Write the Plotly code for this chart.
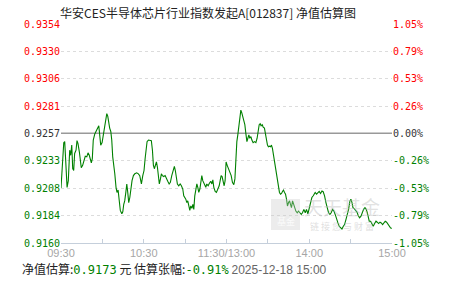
import plotly.graph_objects as go

# ---------------- data ----------------
title_text = "华安CES半导体芯片行业指数发起A[012837] 净值估算图"
base_nav = 0.92573  # previous NAV (0.00% line)

left_tick_labels = ["0.9160", "0.9184", "0.9208", "0.9233", "0.9257",
                    "0.9281", "0.9306", "0.9330", "0.9354"]
right_tick_labels = ["-1.05%", "-0.79%", "-0.53%", "-0.26%", "0.00%",
                     "0.26%", "0.53%", "0.79%", "1.05%"]
x_tick_minutes = [0, 30, 60, 90, 120, 150, 180, 210, 240]
x_tick_labels = ["09:30", "", "10:30", "", "11:30/13:00", "", "14:00", "", "15:00"]

# minutes of trading time since 09:30 (lunch break removed)
minutes = [
    0, 0.9, 2.0, 2.7, 3.4, 4.4, 5.3, 6.3, 7.0, 7.8,
    8.5, 9.2, 9.9, 10.9, 11.6, 12.3, 13.3, 14.0, 14.7, 15.7,
    16.7, 17.6, 18.7, 19.6, 20.5, 21.3, 22.0, 22.7, 23.4, 24.5,
    25.6, 26.6, 27.4, 28.1, 28.8, 29.8, 30.5, 31.4, 32.4, 33.2,
    33.9, 34.6, 35.3, 36.1, 36.8, 37.5, 38.2, 39.0, 39.9, 40.6,
    41.4, 42.1, 43.0, 44.1, 44.8, 45.5, 46.2, 47.0, 47.7, 48.4,
    49.1, 49.9, 50.6, 51.5, 52.5, 53.5, 54.9, 56.1, 57.1, 58.3,
    59.3, 60.2, 61.0, 61.7, 62.4, 63.4, 64.6, 65.5, 66.3, 67.0,
    67.7, 68.4, 69.2, 69.9, 70.6, 71.3, 72.1, 72.8, 73.5, 74.5,
    75.5, 76.4, 77.4, 78.4, 79.3, 80.3, 81.3, 82.2, 82.9, 83.7,
    84.4, 85.4, 86.4, 87.3, 88.3, 89.0, 89.8, 90.5, 91.2, 91.9,
    92.7, 93.4, 94.1, 94.9, 95.6, 96.3, 97.0, 97.8, 98.5, 99.2,
    99.9, 100.7, 101.4, 102.1, 102.8, 103.6, 104.3, 105.0, 105.7, 106.7,
    107.6, 108.6, 109.4, 110.1, 110.8, 111.8, 112.7, 113.7, 114.7, 115.4,
    116.1, 116.8, 117.6, 118.3, 119.0, 119.7, 120.5, 121.4, 122.4, 123.4,
    124.3, 125.3, 126.1, 126.8, 127.5, 128.2, 129.0, 129.7, 130.4, 131.1,
    131.9, 132.6, 133.3, 134.0, 134.8, 135.5, 136.2, 136.9, 137.7, 138.4,
    139.3, 140.3, 141.3, 142.2, 143.0, 143.7, 144.4, 145.1, 145.9, 146.6,
    147.5, 148.3, 149.0, 149.7, 150.4, 151.2, 151.9, 152.6, 153.3, 154.1,
    154.8, 155.5, 156.2, 157.0, 157.7, 158.4, 159.2, 159.9, 160.6, 161.3,
    162.1, 162.8, 163.5, 164.2, 165.0, 165.7, 166.4, 167.1, 167.9, 168.6,
    169.3, 170.3, 171.3, 172.2, 173.2, 174.2, 175.1, 176.1, 177.1, 178.0,
    179.0, 180.0, 180.9, 181.9, 182.9, 183.8, 184.3, 185.3, 186.3, 187.2,
    188.2, 189.2, 190.1, 191.1, 192.1, 193.0, 194.0, 195.0, 195.9, 196.9,
    197.9, 198.8, 199.8, 200.8, 201.7, 202.7, 203.7, 204.7, 205.6, 206.6,
    207.6, 208.5, 209.5, 210.2, 211.0, 211.7, 212.6, 213.6, 214.6, 215.5,
    216.5, 217.5, 218.4, 219.4, 220.4, 221.3, 222.1, 222.8, 223.5, 224.5,
    225.5, 226.4, 227.4, 228.4, 229.3, 230.3, 231.3, 232.2, 233.2, 234.2,
    235.1, 236.1, 237.1, 238.0, 239.0, 240,
]

nav = [
    0.92087, 0.92318, 0.92489, 0.92498, 0.92332, 0.92093, 0.92152, 0.92422, 0.92377, 0.92467,
    0.92258, 0.92242, 0.92393, 0.92422, 0.92507, 0.92483, 0.92408, 0.92348, 0.92267, 0.92288,
    0.92332, 0.92368, 0.92363, 0.92399, 0.92377, 0.92348, 0.92309, 0.92348, 0.92512, 0.92566,
    0.92588, 0.92618, 0.92638, 0.92573, 0.92467, 0.92489, 0.92543, 0.92618, 0.92708, 0.92746,
    0.92723, 0.92656, 0.92618, 0.92588, 0.92512, 0.92363, 0.92303, 0.92213, 0.92093, 0.92048,
    0.92069, 0.91973, 0.91889, 0.91859, 0.91877, 0.91943, 0.91973, 0.92048, 0.92123, 0.92048,
    0.91958, 0.92003, 0.92078, 0.92152, 0.92197, 0.92213, 0.92222, 0.92213, 0.92197, 0.92123,
    0.92197, 0.92242, 0.92348, 0.92453, 0.92498, 0.92512, 0.92512, 0.92507, 0.92422, 0.92288,
    0.92258, 0.92288, 0.92318, 0.92273, 0.92197, 0.92123, 0.92168, 0.92213, 0.92197, 0.92189,
    0.92197, 0.92168, 0.92147, 0.92123, 0.92138, 0.92197, 0.92248, 0.92278, 0.92242, 0.92152,
    0.92123, 0.92107, 0.92123, 0.92107, 0.92078, 0.92018, 0.92003, 0.91988, 0.91958, 0.91973,
    0.91928, 0.91889, 0.91928, 0.91907, 0.91943, 0.91898, 0.92018, 0.92078, 0.92123, 0.92093,
    0.92048, 0.92078, 0.92138, 0.92197, 0.92152, 0.92123, 0.92098, 0.92093, 0.92123, 0.92107,
    0.92129, 0.92147, 0.92123, 0.92159, 0.92093, 0.92057, 0.92048, 0.92078, 0.92107, 0.92152,
    0.92197, 0.92189, 0.92138, 0.92107, 0.92152, 0.92318, 0.92288, 0.92258, 0.92228, 0.92197,
    0.92138, 0.92116, 0.92168, 0.92408, 0.92498, 0.92558, 0.92663, 0.92753, 0.92777, 0.92753,
    0.92708, 0.92678, 0.92648, 0.92573, 0.92498, 0.92528, 0.92558, 0.92528, 0.92543, 0.92512,
    0.92489, 0.92498, 0.92489, 0.92528, 0.92603, 0.92648, 0.92656, 0.92638, 0.92648, 0.92627,
    0.92618, 0.92558, 0.92483, 0.92467, 0.92453, 0.92458, 0.92453, 0.92467, 0.92438, 0.92377,
    0.92318, 0.92258, 0.92197, 0.92123, 0.92078, 0.92048, 0.92033, 0.92039, 0.92057, 0.92069,
    0.92048, 0.92033, 0.91988, 0.91928, 0.91958, 0.91973, 0.91943, 0.91913, 0.91973, 0.91943,
    0.91913, 0.91883, 0.91868, 0.91883, 0.91868, 0.91853, 0.91868, 0.91898, 0.91868, 0.91898,
    0.91859, 0.91913, 0.91973, 0.92003, 0.92018, 0.92039, 0.92048, 0.92033, 0.92048, 0.92057,
    0.92039, 0.92060, 0.92054, 0.92018, 0.91958, 0.91898, 0.91868, 0.91853, 0.91868, 0.91898,
    0.91883, 0.91853, 0.91823, 0.91778, 0.91748, 0.91733, 0.91724, 0.91748, 0.91763, 0.91808,
    0.91853, 0.91898, 0.91973, 0.91988, 0.91958, 0.91913, 0.91904, 0.91892, 0.91874, 0.91844,
    0.91823, 0.91838, 0.91868, 0.91898, 0.91913, 0.91898, 0.91868, 0.91823, 0.91793, 0.91793,
    0.91763, 0.91748, 0.91772, 0.91793, 0.91784, 0.91772, 0.91784, 0.91778, 0.91763, 0.91778,
    0.91793, 0.91784, 0.91763, 0.91754, 0.91733, 0.91730,
]

est_nav_text = "0.9173"
est_chg_text = "-0.91%"
est_time_text = "2025-12-18 15:00"

# ---------------- layout constants ----------------
W, H = 451, 281
ML, MR, MT, MB = 61, 59, 24, 38
PW, PH = W - ML - MR, H - MT - MB

def px_x(px):
    return (px - ML) / PW

def px_y(py):
    return (H - MB - py) / PH

GREEN = "#008000"
RED = "#ff0000"
DARK = "#333333"
MONO = "DejaVu Sans Mono"
CJK = "Noto Sans CJK SC"

y_lo = float(left_tick_labels[0])
y_hi = float(left_tick_labels[-1])
n = len(left_tick_labels)
tickvals = [y_lo + i * (y_hi - y_lo) / (n - 1) for i in range(n)]
mid = n // 2

def colored(lbl, i):
    c = GREEN if i < mid else (DARK if i == mid else RED)
    return f'<span style="color:{c}">{lbl}</span>'

left_text = [colored(l, i) for i, l in enumerate(left_tick_labels)]
right_text = [colored(l, i) for i, l in enumerate(right_tick_labels)]

fig = go.Figure()
fig.add_trace(go.Scatter(x=minutes, y=nav, mode="lines",
                         line=dict(color=GREEN, width=1.1),
                         hoverinfo="skip", showlegend=False))
fig.add_trace(go.Scatter(x=minutes, y=nav, mode="lines", yaxis="y2",
                         line=dict(color="rgba(0,0,0,0)", width=0),
                         hoverinfo="skip", showlegend=False))

fig.add_shape(type="line", xref="x", yref="y", x0=0, x1=240,
              y0=base_nav, y1=base_nav,
              line=dict(color="#999999", width=1.5), layer="between")

fig.update_layout(
    width=W, height=H,
    margin=dict(l=ML, r=MR, t=MT, b=MB, pad=0),
    paper_bgcolor="white", plot_bgcolor="white",
    showlegend=False,
    xaxis=dict(range=[0, 240], tickmode="array", tickvals=x_tick_minutes,
               ticktext=x_tick_labels, showgrid=False, zeroline=False,
               showline=True, linecolor="#c5cfdb", linewidth=1,
               ticks="inside", ticklen=4, tickcolor="#c5cfdb", tickwidth=1,
               tickfont=dict(family="Liberation Sans", size=11, color="#a6a6a6"),
               fixedrange=True),
    yaxis=dict(range=[y_lo, y_hi], tickmode="array", tickvals=tickvals,
               ticktext=left_text, showgrid=True, gridcolor="#dcdcdc",
               griddash="dot", gridwidth=1, zeroline=False, showline=False,
               ticks="", tickfont=dict(family=MONO, size=10),
               fixedrange=True),
    yaxis2=dict(range=[y_lo, y_hi], overlaying="y", side="right",
                tickmode="array", tickvals=tickvals, ticktext=right_text,
                showgrid=False, zeroline=False, showline=False, ticks="",
                tickfont=dict(family=MONO, size=10), fixedrange=True),
)

# title
fig.add_annotation(text=title_text, xref="paper", yref="paper",
                   x=px_x(208), y=px_y(13), xanchor="center", yanchor="middle",
                   showarrow=False, font=dict(family=CJK, size=12, color="#222222"))

# watermark
fig.add_annotation(text="天天基金", xref="paper", yref="paper",
                   x=px_x(342), y=px_y(206), xanchor="center", yanchor="middle",
                   showarrow=False,
                   font=dict(family=CJK, size=19, color="rgba(190,190,190,0.45)"))
fig.add_annotation(text="链 接 您 与 财 富", xref="paper", yref="paper",
                   x=px_x(342), y=px_y(226), xanchor="center", yanchor="middle",
                   showarrow=False,
                   font=dict(family=CJK, size=9, color="rgba(190,190,190,0.5)"))
fig.add_shape(type="rect", xref="paper", yref="paper",
              x0=px_x(271), x1=px_x(300), y0=px_y(230), y1=px_y(199),
              fillcolor="rgba(200,200,200,0.35)", line=dict(width=0))
fig.add_annotation(text="基金", xref="paper", yref="paper",
                   x=px_x(285.5), y=px_y(221), xanchor="center", yanchor="middle",
                   showarrow=False,
                   font=dict(family=CJK, size=9, color="rgba(255,255,255,0.8)"))

# bottom info line
info = (f'净值估算:<span style="color:{GREEN};font-family:{MONO}">{est_nav_text}</span>'
        f' 元 估算张幅:<span style="color:{GREEN};font-family:{MONO}">{est_chg_text}</span>'
        f' <span style="color:#666666;font-family:Liberation Sans">{est_time_text}</span>')
fig.add_annotation(text=info, xref="paper", yref="paper",
                   x=px_x(20), y=px_y(268), xanchor="left", yanchor="middle",
                   showarrow=False, font=dict(family=CJK, size=12, color="#222222"))

fig.write_html("out.html")
